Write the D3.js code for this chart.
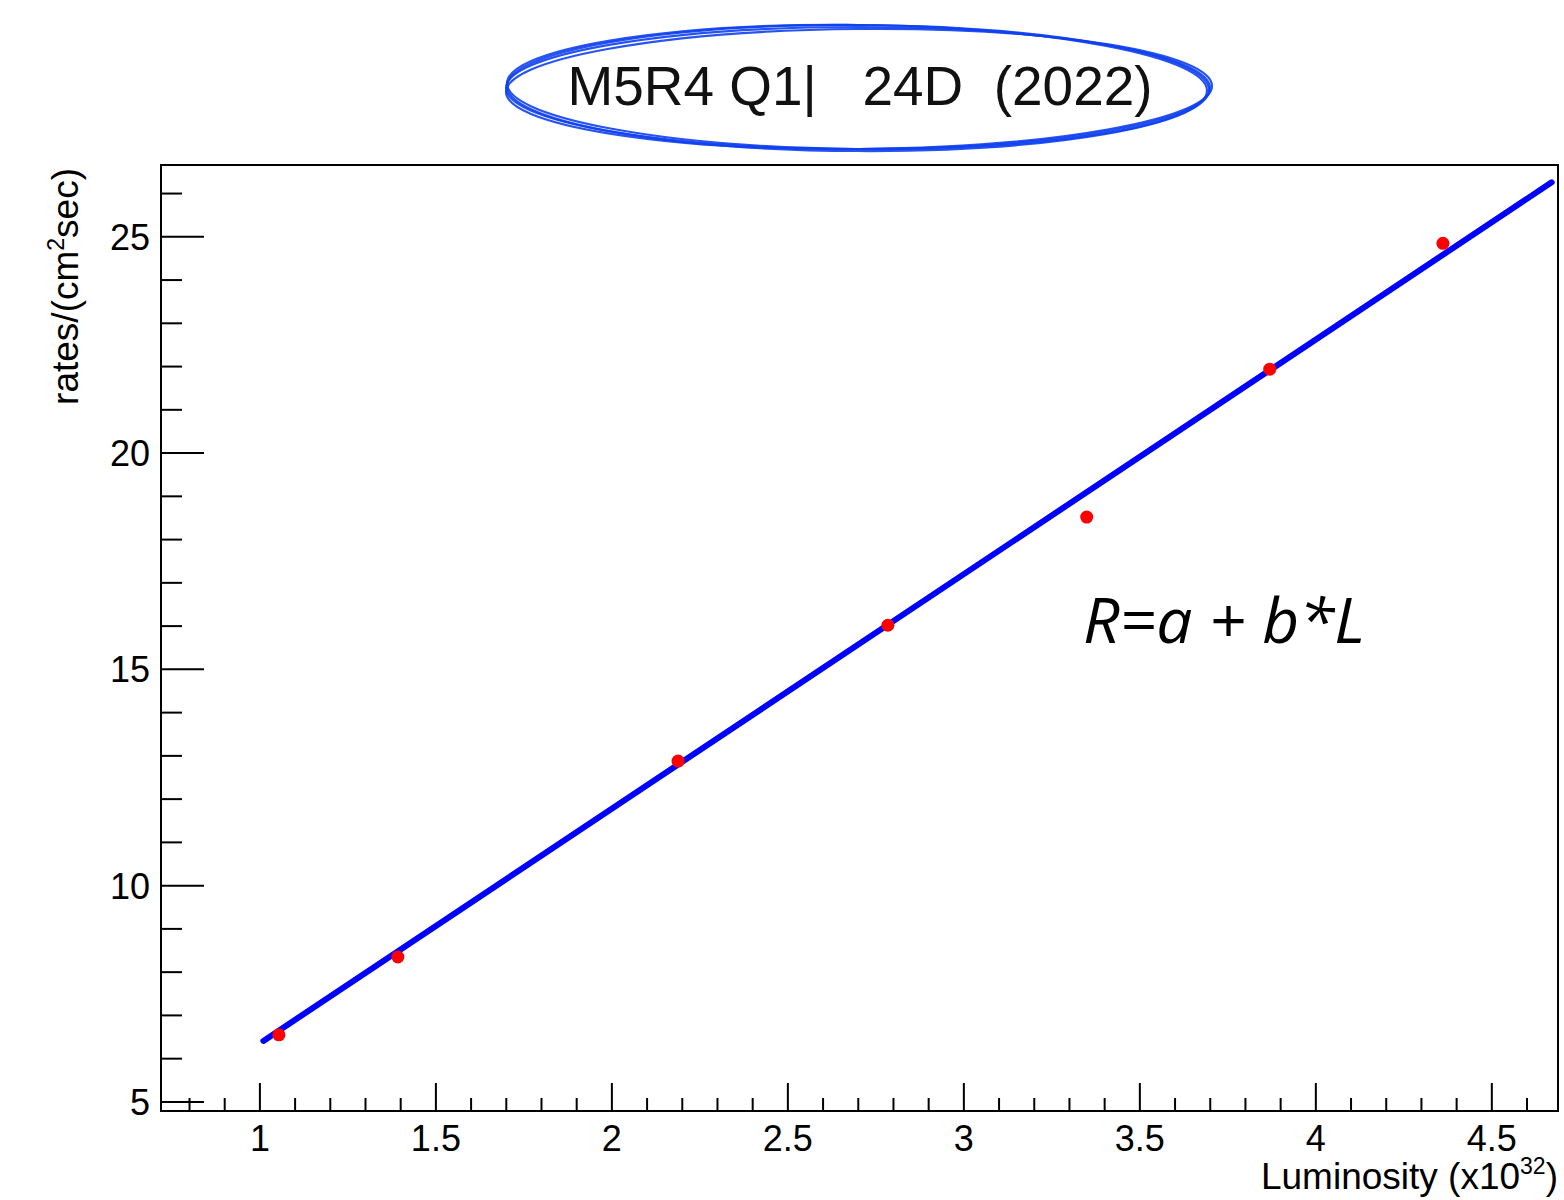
<!DOCTYPE html>
<html><head><meta charset="utf-8">
<script src="https://cdn.jsdelivr.net/npm/d3@7"></script>
<style>body{margin:0;background:#fff}svg{display:block}</style>
</head><body>
<script>
// data
const lumi = [1.054, 1.392, 2.188, 2.784, 3.349, 3.869, 4.361];
const rates = [6.55, 8.35, 12.88, 16.02, 18.52, 21.94, 24.85];
const fitX = [1.01, 4.67];
const fitY = [6.41, 26.26];
const xTicks = [1, 1.5, 2, 2.5, 3, 3.5, 4, 4.5];
const yTicks = [5, 10, 15, 20, 25];
const titleText = "M5R4 Q1|\u00a0\u00a0\u00a024D\u00a0\u00a0(2022)";
const formulaText = "R=a + b*L";

const W = 1564, H = 1200;
const svg = d3.select("body").append("svg").attr("width", W).attr("height", H);
const L = 161, R = 1558, T = 165, B = 1111;
const x = d3.scaleLinear().domain([0.719, 4.688]).range([L, R]);
const y = d3.scaleLinear().domain([4.79, 26.66]).range([B, T]);
const font = "'Liberation Sans', Arial, Helvetica, sans-serif";

// frame
svg.append("rect").attr("x", L).attr("y", T).attr("width", R - L).attr("height", B - T)
  .attr("fill", "none").attr("stroke", "#000").attr("stroke-width", 2);

// x ticks
const xMinor = d3.range(8, 47).map(d => d / 10).filter(v => x(v) > L + 1 && x(v) < R - 1);
svg.append("g").selectAll("line").data(xMinor).join("line")
  .attr("x1", d => x(d)).attr("x2", d => x(d))
  .attr("y1", B).attr("y2", d => B - (Math.abs(d * 2 - Math.round(d * 2)) < 1e-6 ? 28 : 13))
  .attr("stroke", "#000").attr("stroke-width", 2);
svg.append("g").selectAll("text").data(xTicks).join("text")
  .attr("x", d => x(d)).attr("y", 1151).attr("text-anchor", "middle")
  .attr("font-family", font).attr("font-size", 36).text(d => d);

// y ticks
const yMinor = d3.range(5, 27);
svg.append("g").selectAll("line").data(yMinor).join("line")
  .attr("x1", L).attr("x2", d => L + (d % 5 === 0 ? 43 : 21))
  .attr("y1", d => y(d)).attr("y2", d => y(d))
  .attr("stroke", "#000").attr("stroke-width", 2);
svg.append("g").selectAll("text").data(yTicks).join("text")
  .attr("x", 150).attr("y", d => y(d) + 13).attr("text-anchor", "end")
  .attr("font-family", font).attr("font-size", 36).text(d => d);

// axis titles
const yl = svg.append("text").attr("transform", "translate(78,168) rotate(-90)")
  .attr("text-anchor", "end").attr("font-family", font).attr("font-size", 37);
yl.append("tspan").text("rates/(cm");
yl.append("tspan").attr("font-size", 23).attr("dy", -14).text("2");
yl.append("tspan").attr("dy", 14).text("sec)");

const xl = svg.append("text").attr("x", 1558).attr("y", 1189)
  .attr("text-anchor", "end").attr("font-family", font).attr("font-size", 37);
xl.append("tspan").text("Luminosity (x10");
xl.append("tspan").attr("font-size", 23).attr("dy", -15).text("32");
xl.append("tspan").attr("dy", 15).text(")");

// fit line
const line = d3.line().x(d => x(d[0])).y(d => y(d[1]));
svg.append("path").datum(d3.zip(fitX, fitY)).attr("d", line)
  .attr("fill", "none").attr("stroke", "#0000ff").attr("stroke-width", 6).attr("stroke-linecap", "round");

// points
svg.append("g").selectAll("circle").data(d3.zip(lumi, rates)).join("circle")
  .attr("cx", d => x(d[0])).attr("cy", d => y(d[1])).attr("r", 6.5).attr("fill", "#ff0000");

// title
svg.append("text").attr("x", 860).attr("y", 105).attr("text-anchor", "middle")
  .attr("font-family", font).attr("font-size", 56).attr("fill", "#111")
  .attr("textLength", 585).attr("lengthAdjust", "spacingAndGlyphs").text(titleText);

// hand-drawn ellipse
const ells = [[858, 88, 352, 61, 0], [857, 87, 350, 62, 0.6], [859, 89, 353, 60, -0.5], [858, 88, 351, 63, 0.3]];
svg.append("g").selectAll("ellipse").data(ells).join("ellipse")
  .attr("cx", d => d[0]).attr("cy", d => d[1]).attr("rx", d => d[2]).attr("ry", d => d[3])
  .attr("transform", d => `rotate(${d[4]},${d[0]},${d[1]})`)
  .attr("fill", "none").attr("stroke", "#1040f0").attr("stroke-width", 2.2).attr("opacity", 0.9);

// formula
svg.append("text").attr("x", 1083).attr("y", 643)
  .attr("font-family", "'Open Sans', 'Noto Sans', sans-serif").attr("font-style", "italic")
  .attr("font-size", 63).attr("fill", "#000")
  .attr("textLength", 282).attr("lengthAdjust", "spacingAndGlyphs").text(formulaText);
</script>
</body></html>
